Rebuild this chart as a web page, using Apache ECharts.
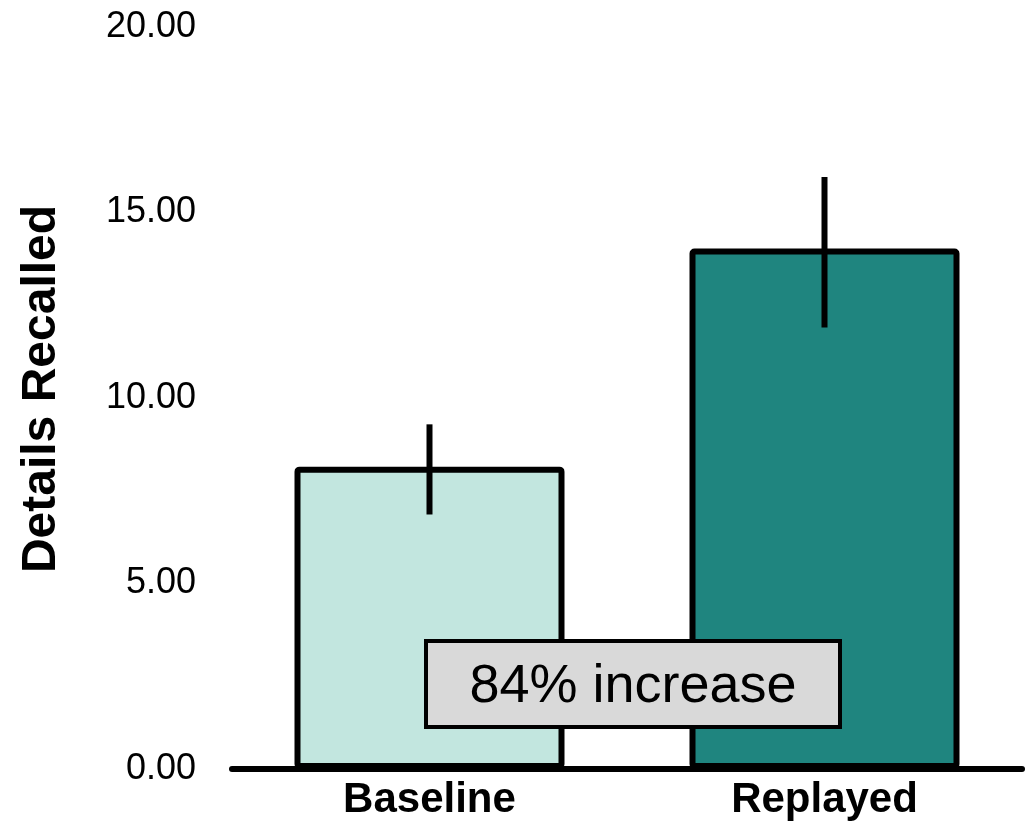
<!DOCTYPE html>
<html>
<head>
<meta charset="utf-8">
<script src="https://cdn.jsdelivr.net/npm/echarts@6/dist/echarts.min.js"></script>
<style>
  html, body { margin: 0; padding: 0; background: #fff; }
  #chart { width: 1030px; height: 822px; }
</style>
</head>
<body>
<div id="chart"></div>
<script>
// ---- data ----
const categories = ['Baseline', 'Replayed'];
const means = [8.15, 14.03];
const errLow = [6.86, 11.90];
const errHigh = [9.29, 15.96];
const barColors = ['#c2e6df', '#1f857f'];
const yMin = 0, yMax = 20, yStep = 5;
const annotationText = '84% increase';
const annotationRange = [1.13, 3.45]; // value-axis span of the annotation box

const FONT = '"Liberation Sans", Arial, Helvetica, sans-serif';

const chart = echarts.init(document.getElementById('chart'), null, { renderer: 'canvas' });

const option = {
  backgroundColor: '#ffffff',
  animation: false,
  grid: { left: 232, right: 8, top: 27, bottom: 53, containLabel: false },
  xAxis: {
    type: 'category',
    data: categories,
    axisLine: { show: true, lineStyle: { color: '#000', width: 6 } },
    axisTick: { show: false },
    axisLabel: { color: '#000', fontSize: 42, fontWeight: 'bold', fontFamily: FONT, margin: 10 },
    splitLine: { show: false }
  },
  yAxis: {
    type: 'value',
    min: yMin, max: yMax, interval: yStep,
    axisLine: { show: false },
    axisTick: { show: false },
    splitLine: { show: false },
    axisLabel: {
      color: '#000', fontSize: 36, fontFamily: FONT, margin: 36,
      formatter: v => v.toFixed(2)
    },
    name: 'Details Recalled',
    nameLocation: 'middle',
    nameGap: 166,
    nameTextStyle: {
      color: '#000', fontSize: 48, fontWeight: 'bold', fontFamily: FONT,
      padding: [0, 0, 0, 18]
    }
  },
  series: [
    {
      type: 'bar',
      barWidth: 270,
      data: means.map((v, i) => ({
        value: v,
        itemStyle: { color: barColors[i], borderColor: '#000', borderWidth: 6, borderRadius: 2 }
      })),
      z: 2
    },
    {
      type: 'custom',
      z: 5,
      data: categories.map((c, i) => [i, errLow[i], errHigh[i]]),
      renderItem: function (params, api) {
        const lo = api.coord([api.value(0), api.value(1)]);
        const hi = api.coord([api.value(0), api.value(2)]);
        return {
          type: 'line',
          shape: { x1: lo[0], y1: lo[1], x2: hi[0], y2: hi[1] },
          style: { stroke: '#000', lineWidth: 6 }
        };
      }
    }
  ]
};

chart.setOption(option);

// annotation box between the two bars
const xa = chart.convertToPixel({ xAxisIndex: 0 }, categories[0]);
const xb = chart.convertToPixel({ xAxisIndex: 0 }, categories[1]);
const yTop = chart.convertToPixel({ yAxisIndex: 0 }, annotationRange[1]);
const yBot = chart.convertToPixel({ yAxisIndex: 0 }, annotationRange[0]);
const cx = (xa + xb) / 2 + 6;
const boxW = 414;
chart.setOption({
  graphic: [
    {
      type: 'rect',
      z: 10,
      shape: { x: cx - boxW / 2, y: yTop, width: boxW, height: yBot - yTop },
      style: { fill: '#d9d9d9', stroke: '#000', lineWidth: 4 }
    },
    {
      type: 'text',
      z: 11,
      x: cx,
      y: (yTop + yBot) / 2 + 3,
      style: {
        text: annotationText, fill: '#000', fontSize: 54, fontFamily: FONT,
        align: 'center', verticalAlign: 'middle'
      }
    }
  ]
});
</script>
</body>
</html>
